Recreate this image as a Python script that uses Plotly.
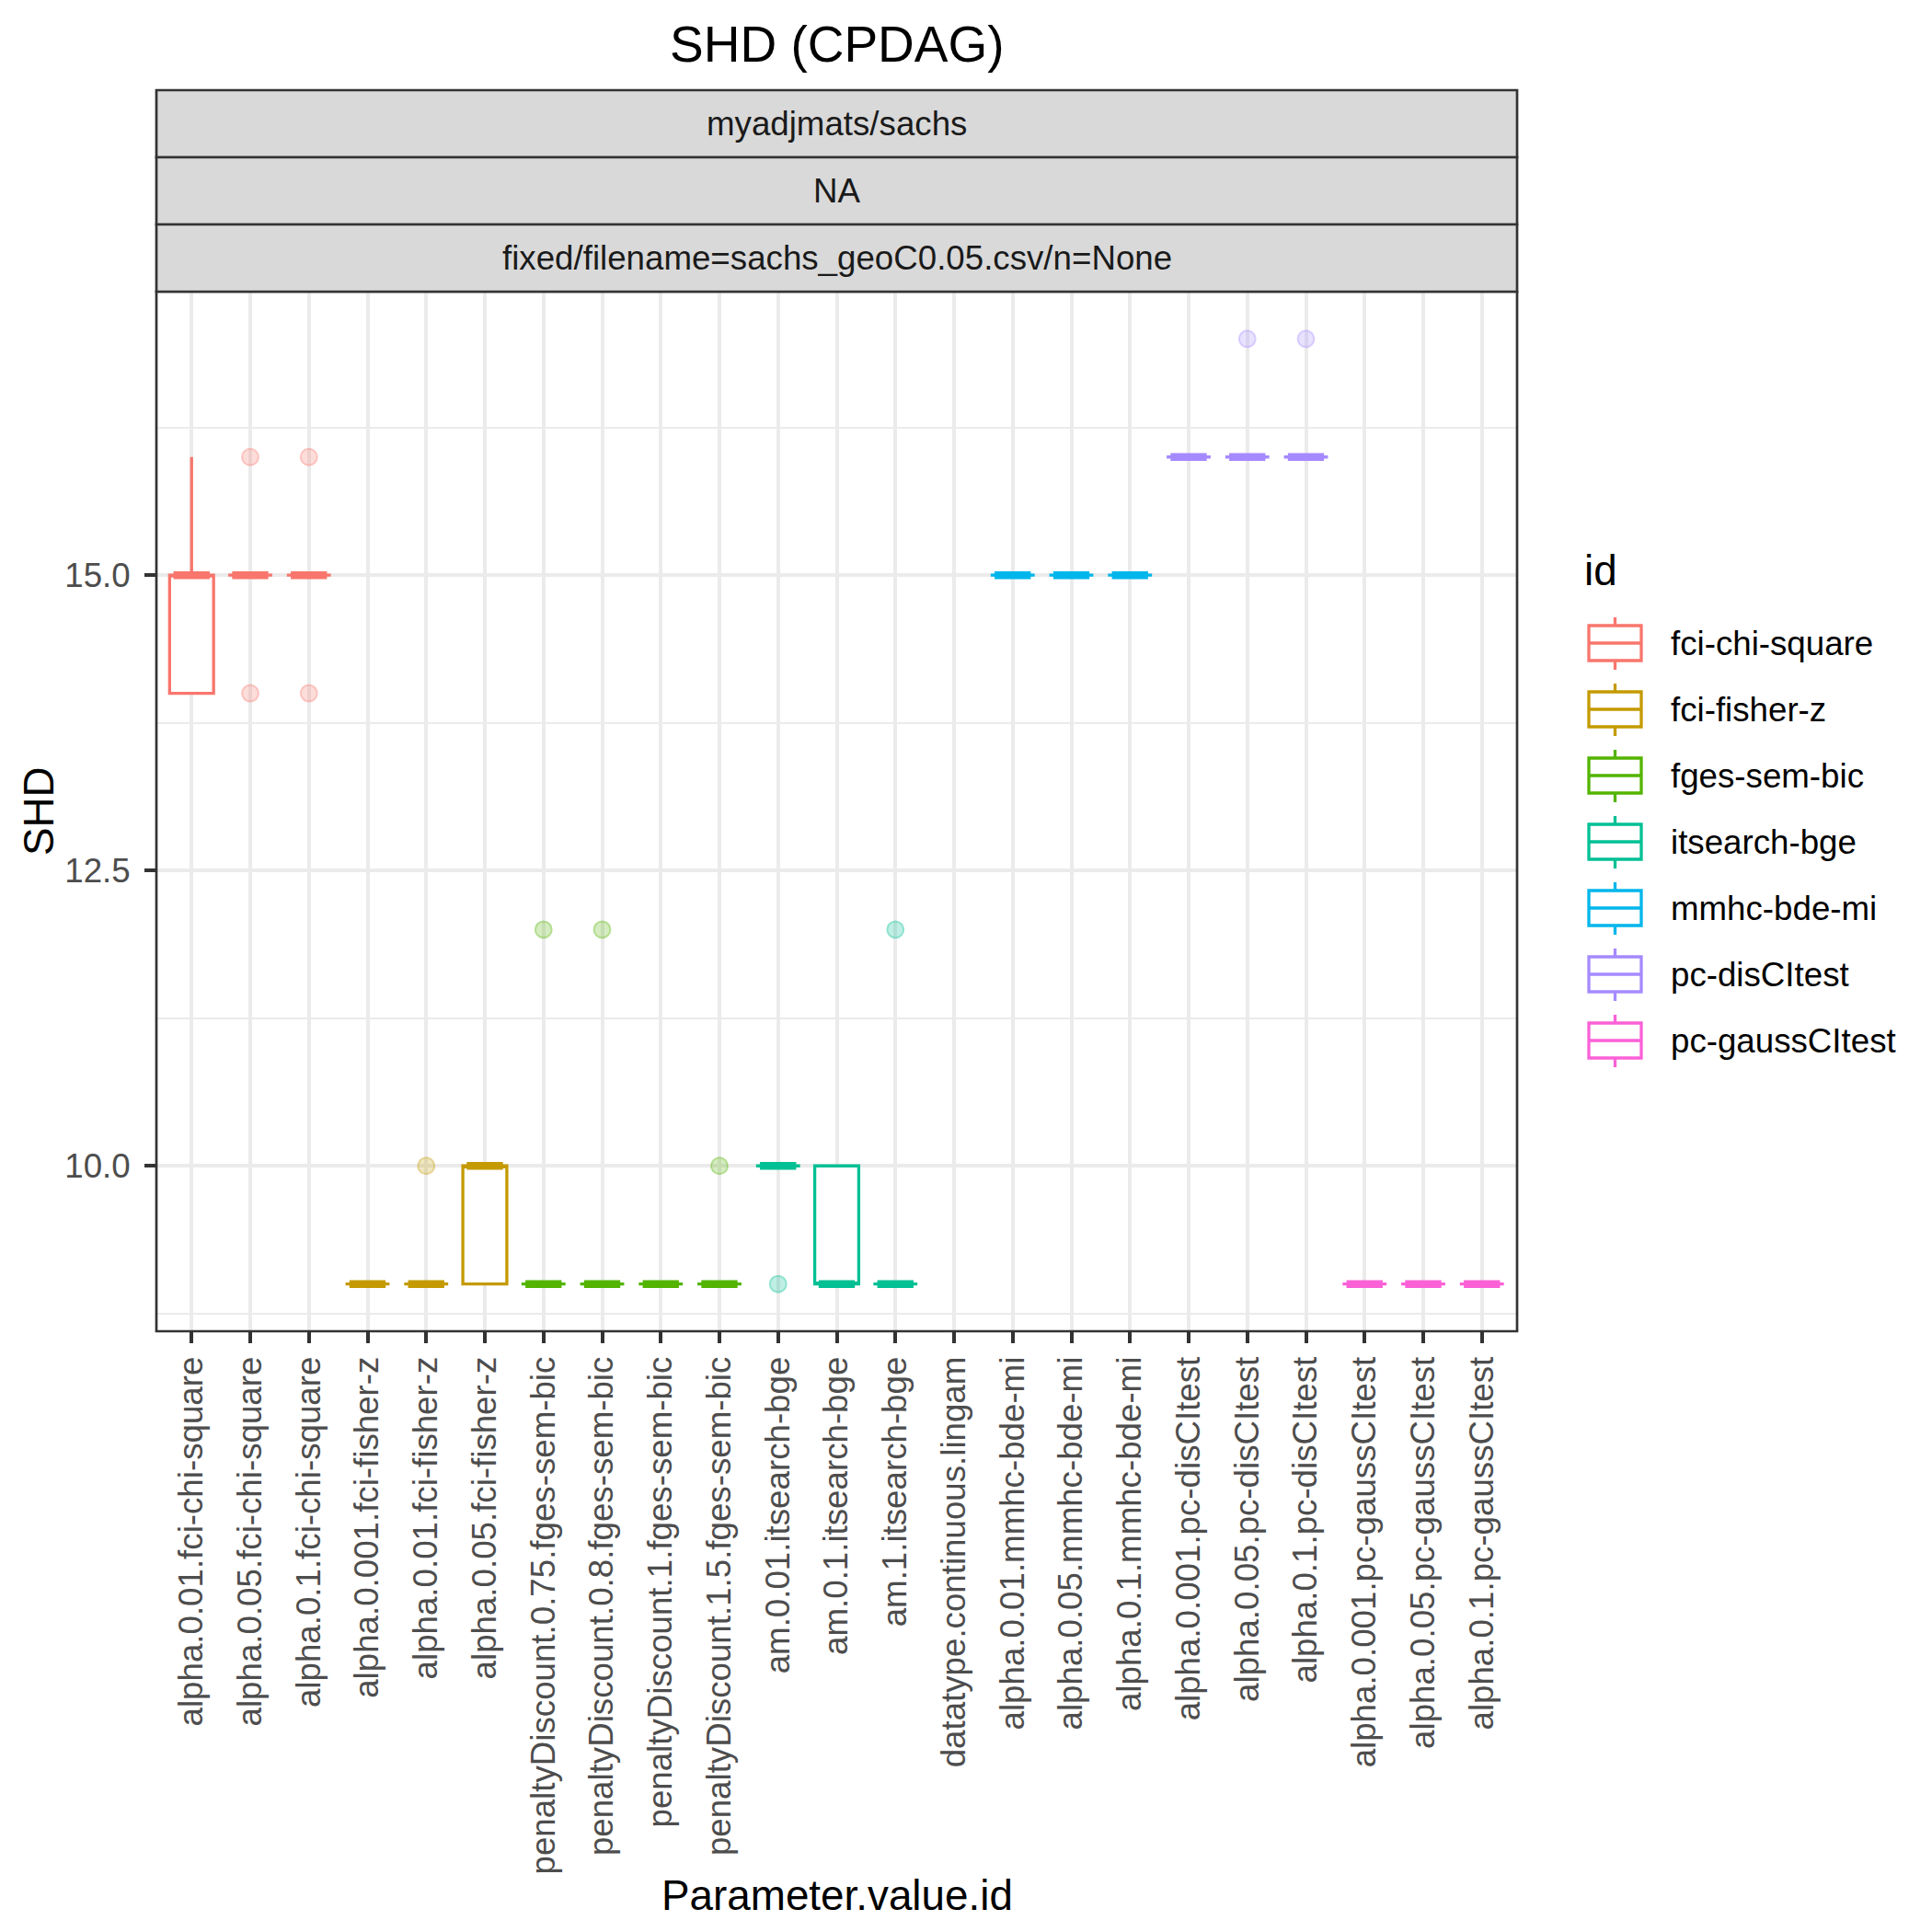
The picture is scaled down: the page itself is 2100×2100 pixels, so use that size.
import plotly.graph_objects as go

# ---------------- data ----------------
params = [
    "alpha.0.01.fci-chi-square", "alpha.0.05.fci-chi-square", "alpha.0.1.fci-chi-square",
    "alpha.0.001.fci-fisher-z", "alpha.0.01.fci-fisher-z", "alpha.0.05.fci-fisher-z",
    "penaltyDiscount.0.75.fges-sem-bic", "penaltyDiscount.0.8.fges-sem-bic",
    "penaltyDiscount.1.fges-sem-bic", "penaltyDiscount.1.5.fges-sem-bic",
    "am.0.01.itsearch-bge", "am.0.1.itsearch-bge", "am.1.itsearch-bge",
    "datatype.continuous.lingam",
    "alpha.0.01.mmhc-bde-mi", "alpha.0.05.mmhc-bde-mi", "alpha.0.1.mmhc-bde-mi",
    "alpha.0.001.pc-disCItest", "alpha.0.05.pc-disCItest", "alpha.0.1.pc-disCItest",
    "alpha.0.001.pc-gaussCItest", "alpha.0.05.pc-gaussCItest", "alpha.0.1.pc-gaussCItest",
]
param_id = [
    "fci-chi-square", "fci-chi-square", "fci-chi-square",
    "fci-fisher-z", "fci-fisher-z", "fci-fisher-z",
    "fges-sem-bic", "fges-sem-bic", "fges-sem-bic", "fges-sem-bic",
    "itsearch-bge", "itsearch-bge", "itsearch-bge",
    None,
    "mmhc-bde-mi", "mmhc-bde-mi", "mmhc-bde-mi",
    "pc-disCItest", "pc-disCItest", "pc-disCItest",
    "pc-gaussCItest", "pc-gaussCItest", "pc-gaussCItest",
]
shd_q1 =     [14, 15, 15, 9, 9, 9,  9, 9, 9, 9, 10, 9, 9, None, 15, 15, 15, 16, 16, 16, 9, 9, 9]
shd_median = [15, 15, 15, 9, 9, 10, 9, 9, 9, 9, 10, 9, 9, None, 15, 15, 15, 16, 16, 16, 9, 9, 9]
shd_q3 =     [15, 15, 15, 9, 9, 10, 9, 9, 9, 9, 10, 10, 9, None, 15, 15, 15, 16, 16, 16, 9, 9, 9]
shd_lower =  [14, 15, 15, 9, 9, 9,  9, 9, 9, 9, 10, 9, 9, None, 15, 15, 15, 16, 16, 16, 9, 9, 9]
shd_upper =  [16, 15, 15, 9, 9, 10, 9, 9, 9, 9, 10, 10, 9, None, 15, 15, 15, 16, 16, 16, 9, 9, 9]

outlier_param = [
    "alpha.0.05.fci-chi-square", "alpha.0.05.fci-chi-square",
    "alpha.0.1.fci-chi-square", "alpha.0.1.fci-chi-square",
    "alpha.0.01.fci-fisher-z",
    "penaltyDiscount.0.75.fges-sem-bic", "penaltyDiscount.0.8.fges-sem-bic",
    "penaltyDiscount.1.5.fges-sem-bic",
    "am.0.01.itsearch-bge", "am.1.itsearch-bge",
    "alpha.0.05.pc-disCItest", "alpha.0.1.pc-disCItest",
]
outlier_value = [16, 14, 16, 14, 10, 12, 12, 10, 9, 12, 17, 17]

ids = ["fci-chi-square", "fci-fisher-z", "fges-sem-bic", "itsearch-bge",
       "mmhc-bde-mi", "pc-disCItest", "pc-gaussCItest"]
id_colors = ["#F8766D", "#C49A00", "#53B400", "#00C094", "#00B6EB", "#A58AFF", "#FB61D7"]

strip_labels = ["myadjmats/sachs", "NA", "fixed/filename=sachs_geoC0.05.csv/n=None"]

# ---------------- layout helpers (page pixels -> paper) ----------------
W = H = 2100
OFF = 8  # default page body margin
PL, PR, PT, PB = 170, 1649, 317, 1447   # panel edges in page pixels
FONT = "Liberation Sans, Arial, Helvetica, sans-serif"


def fx(px):
    return (px - PL) / (PR - PL)


def fy(py):
    return (PB - py) / (PB - PT)


def rgba(hex_color, a):
    h = hex_color.lstrip("#")
    r, g, b = int(h[0:2], 16), int(h[2:4], 16), int(h[4:6], 16)
    return f"rgba({r},{g},{b},{a})"


fig = go.Figure()

cat_px = (PR - PL) / (len(params) + 0.2)
MED_W = 8.5

for idn, col in zip(ids, id_colors):
    idx = [i for i, p in enumerate(param_id) if p == idn]
    xs = [params[i] for i in idx]
    fig.add_trace(go.Box(
        x=xs,
        q1=[shd_q1[i] for i in idx],
        median=[shd_median[i] for i in idx],
        q3=[shd_q3[i] for i in idx],
        lowerfence=[shd_lower[i] for i in idx],
        upperfence=[shd_upper[i] for i in idx],
        name=idn, line=dict(color=col, width=3.3), fillcolor="white",
        whiskerwidth=0, width=0.75, boxpoints=False, showlegend=False,
    ))
    meds = [shd_median[i] for i in idx]
    fig.add_trace(go.Box(
        x=xs, q1=meds, median=meds, q3=meds, lowerfence=meds, upperfence=meds,
        name=idn + " median", line=dict(color=col, width=MED_W), fillcolor=col,
        whiskerwidth=0, width=0.75 - MED_W / cat_px, boxpoints=False, showlegend=False,
    ))

for idn, col in zip(ids, id_colors):
    ox, oy = [], []
    for p, v in zip(outlier_param, outlier_value):
        if param_id[params.index(p)] == idn:
            ox.append(p)
            oy.append(v)
    if ox:
        fig.add_trace(go.Scatter(
            x=ox, y=oy, mode="markers", showlegend=False, name=idn + " outliers",
            marker=dict(size=18, color=rgba(col, 0.25), line=dict(color=rgba(col, 0.35), width=2)),
        ))

shapes = []
annotations = []

# panel border
shapes.append(dict(type="rect", xref="paper", yref="paper", x0=0, x1=1, y0=0, y1=1,
                   line=dict(color="#333333", width=2.7), layer="above"))

# facet strips
strip_tops = [98, 171, 244]
for top, lab in zip(strip_tops, strip_labels):
    shapes.append(dict(type="rect", xref="paper", yref="paper", x0=0, x1=1,
                       y0=fy(top + 73), y1=fy(top), fillcolor="#D9D9D9",
                       line=dict(color="#333333", width=2.7), layer="above"))
    annotations.append(dict(text=lab, xref="paper", yref="paper", x=0.5, y=fy(top + 36.5),
                            xanchor="center", yanchor="middle", showarrow=False,
                            font=dict(family=FONT, size=36.7, color="#1A1A1A")))

# title and axis titles
annotations.append(dict(text="SHD (CPDAG)", xref="paper", yref="paper", x=0.5, y=fy(48),
                        xanchor="center", yanchor="middle", showarrow=False,
                        font=dict(family=FONT, size=55, color="black")))
annotations.append(dict(text="Parameter.value.id", xref="paper", yref="paper", x=0.5, y=fy(2060),
                        xanchor="center", yanchor="middle", showarrow=False,
                        font=dict(family=FONT, size=45.8, color="black")))
annotations.append(dict(text="SHD", xref="paper", yref="paper", x=fx(42), y=0.5,
                        xanchor="center", yanchor="middle", showarrow=False, textangle=-90,
                        font=dict(family=FONT, size=45.8, color="black")))

# legend (ggplot-style box keys)
annotations.append(dict(text="id", xref="paper", yref="paper", x=fx(1720), y=fy(620),
                        xanchor="left", yanchor="middle", showarrow=False,
                        font=dict(family=FONT, size=45.8, color="black")))
for k, (idn, col) in enumerate(zip(ids, id_colors)):
    yc = 699 + 72 * k
    shapes.append(dict(type="rect", xref="paper", yref="paper", x0=fx(1727), x1=fx(1784),
                       y0=fy(yc + 19), y1=fy(yc - 19), fillcolor="white",
                       line=dict(color=col, width=3.3)))
    shapes.append(dict(type="line", xref="paper", yref="paper", x0=fx(1727), x1=fx(1784),
                       y0=fy(yc), y1=fy(yc), line=dict(color=col, width=3.3)))
    shapes.append(dict(type="line", xref="paper", yref="paper", x0=fx(1755.5), x1=fx(1755.5),
                       y0=fy(yc - 19), y1=fy(yc - 28), line=dict(color=col, width=3.3)))
    shapes.append(dict(type="line", xref="paper", yref="paper", x0=fx(1755.5), x1=fx(1755.5),
                       y0=fy(yc + 19), y1=fy(yc + 29), line=dict(color=col, width=3.3)))
    annotations.append(dict(text=idn, xref="paper", yref="paper", x=fx(1814), y=fy(yc),
                            xanchor="left", yanchor="middle", showarrow=False,
                            font=dict(family=FONT, size=36.7, color="black")))

fig.update_layout(
    width=W, height=H,
    margin=dict(l=PL - OFF, r=W - PR + OFF, t=PT - OFF, b=H - PB + OFF, pad=0),
    paper_bgcolor="white", plot_bgcolor="white",
    boxmode="overlay",
    showlegend=False,
    font=dict(family=FONT, color="#4D4D4D", size=36.7),
    shapes=shapes, annotations=annotations,
    xaxis=dict(
        type="category", categoryorder="array", categoryarray=params,
        range=[-0.6, len(params) - 0.4], dtick=1,
        tickangle=-90, tickfont=dict(family=FONT, size=36.7, color="#4D4D4D"),
        ticks="outside", ticklen=12, tickwidth=3.8, tickcolor="#333333",
        showgrid=True, gridcolor="#EBEBEB", gridwidth=3.6,
        showline=False, zeroline=False, fixedrange=True,
    ),
    yaxis=dict(
        range=[8.6, 17.4], tick0=0, dtick=2.5, tickformat=".1f",
        tickfont=dict(family=FONT, size=36.7, color="#4D4D4D"),
        ticks="outside", ticklen=12, tickwidth=3.8, tickcolor="#333333",
        ticklabelstandoff=8,
        showgrid=True, gridcolor="#EBEBEB", gridwidth=3.6,
        minor=dict(dtick=1.25, tick0=0, showgrid=True, gridcolor="#EBEBEB", gridwidth=2, ticks=""),
        showline=False, zeroline=False, fixedrange=True,
    ),
)

fig.write_html("out.html")
